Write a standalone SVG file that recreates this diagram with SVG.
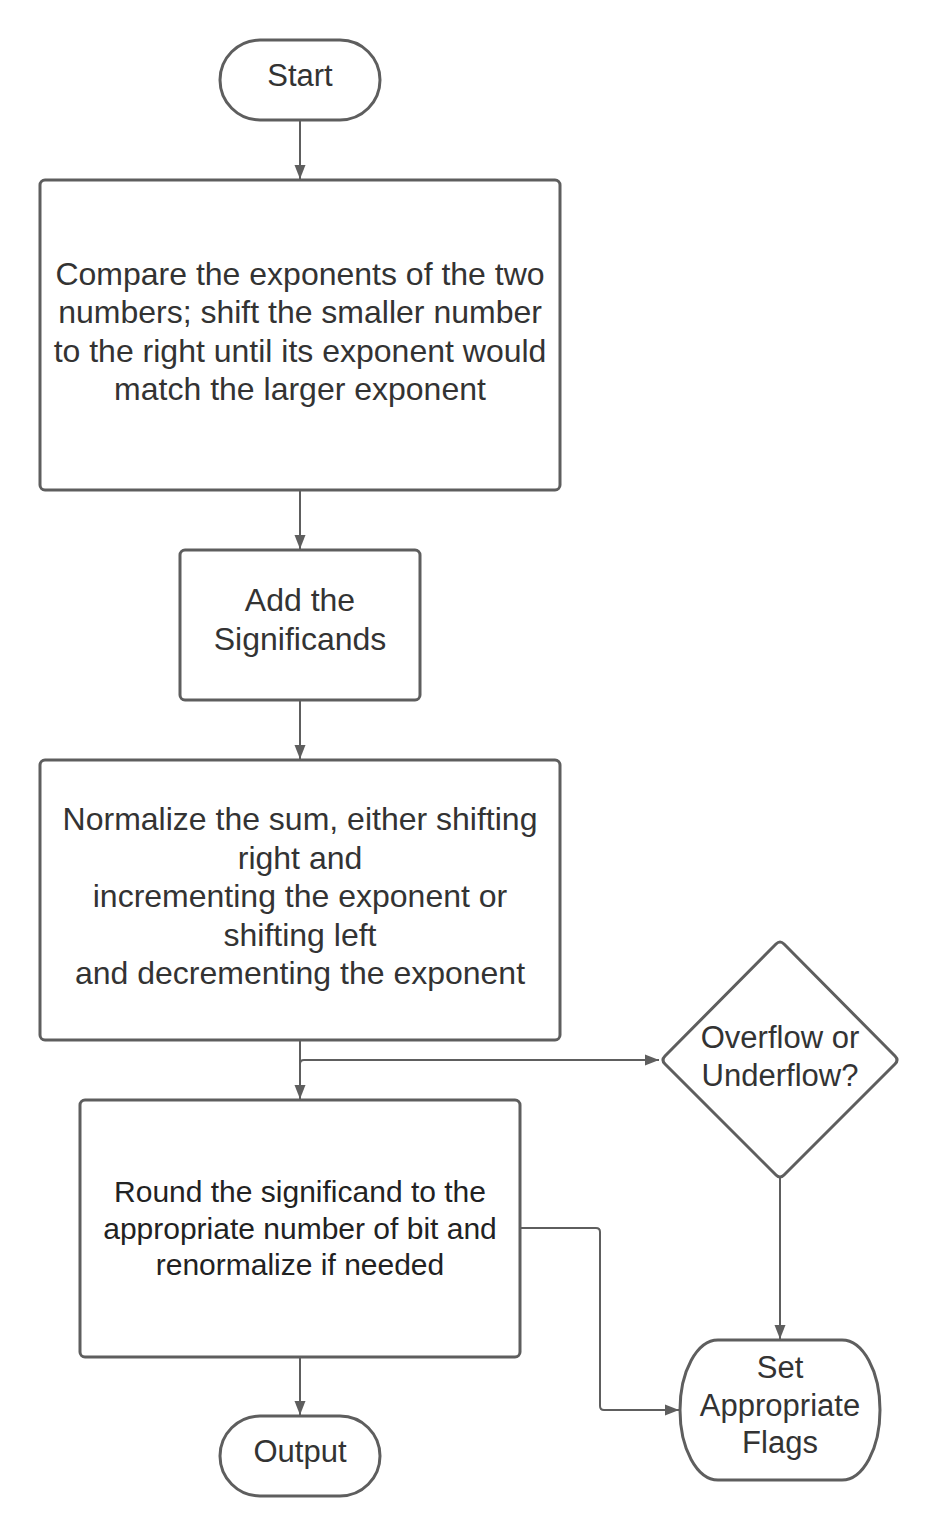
<svg xmlns="http://www.w3.org/2000/svg" width="940" height="1537" viewBox="0 0 940 1537">
<style>
.shape{fill:#fff;stroke:#5e5e5e;stroke-width:3}
.conn{fill:none;stroke:#5e5e5e;stroke-width:2}
text{font-family:"Liberation Sans",Arial,sans-serif;font-size:31px;fill:#333;text-anchor:middle}
.big{font-size:32px}
.small{font-size:30px;fill:#222}
</style>
<defs>
<marker id="arr" markerUnits="userSpaceOnUse" markerWidth="16" markerHeight="16" viewBox="0 0 16 16" refX="15" refY="8" orient="auto">
<path d="M1 2.5 L15 8 L1 13.5 Z" fill="#5e5e5e"/>
</marker>
</defs>
<rect width="940" height="1537" fill="#fff"/>
<g id="connectors">
<path class="conn" d="M300 121 V179" marker-end="url(#arr)"/>
<path class="conn" d="M300 491 V549" marker-end="url(#arr)"/>
<path class="conn" d="M300 701 V759" marker-end="url(#arr)"/>
<path class="conn" d="M300 1041 V1099" marker-end="url(#arr)"/>
<path class="conn" d="M300 1072 V1064 Q300 1060 304 1060 H659" marker-end="url(#arr)"/>
<path class="conn" d="M780 1178 V1339" marker-end="url(#arr)"/>
<path class="conn" d="M521 1228 H596 Q600 1228 600 1232 V1406 Q600 1410 604 1410 H679" marker-end="url(#arr)"/>
<path class="conn" d="M300 1358 V1415" marker-end="url(#arr)"/>
</g>
<g id="start">
<rect class="shape" x="220" y="40" width="160" height="80" rx="40"/>
<text x="300" y="86">Start</text>
</g>
<g id="compare">
<rect class="shape" x="40" y="180" width="520" height="310" rx="5"/>
<text class="big" x="300" y="285">Compare the exponents of the two</text>
<text class="big" x="300" y="323">numbers; shift the smaller number</text>
<text class="big" x="300" y="362">to the right until its exponent would</text>
<text class="big" x="300" y="400">match the larger exponent</text>
</g>
<g id="add">
<rect class="shape" x="180" y="550" width="240" height="150" rx="5"/>
<text class="big" x="300" y="611">Add the</text>
<text class="big" x="300" y="650">Significands</text>
</g>
<g id="normalize">
<rect class="shape" x="40" y="760" width="520" height="280" rx="5"/>
<text class="big" x="300" y="830">Normalize the sum, either shifting</text>
<text class="big" x="300" y="869">right and</text>
<text class="big" x="300" y="907">incrementing the exponent or</text>
<text class="big" x="300" y="946">shifting left</text>
<text class="big" x="300" y="984">and decrementing the exponent</text>
</g>
<g id="round">
<rect class="shape" x="80" y="1100" width="440" height="257" rx="5"/>
<text class="small" x="300" y="1202">Round the significand to the</text>
<text class="small" x="300" y="1239">appropriate number of bit and</text>
<text class="small" x="300" y="1275">renormalize if needed</text>
</g>
<g id="overflow">
<path class="shape" d="M776 944 Q780 940 784 944 L895 1056 Q899 1060 895 1064 L784 1175 Q780 1179 776 1175 L665 1064 Q661 1060 665 1056 Z"/>
<text x="780" y="1048">Overflow or</text>
<text x="780" y="1086">Underflow?</text>
</g>
<g id="output">
<rect class="shape" x="220" y="1416" width="160" height="80" rx="40"/>
<text x="300" y="1462">Output</text>
</g>
<g id="flags">
<rect class="shape" x="680" y="1340" width="200" height="140" rx="38" ry="70"/>
<text x="780" y="1378">Set</text>
<text x="780" y="1416">Appropriate</text>
<text x="780" y="1453">Flags</text>
</g>
</svg>
